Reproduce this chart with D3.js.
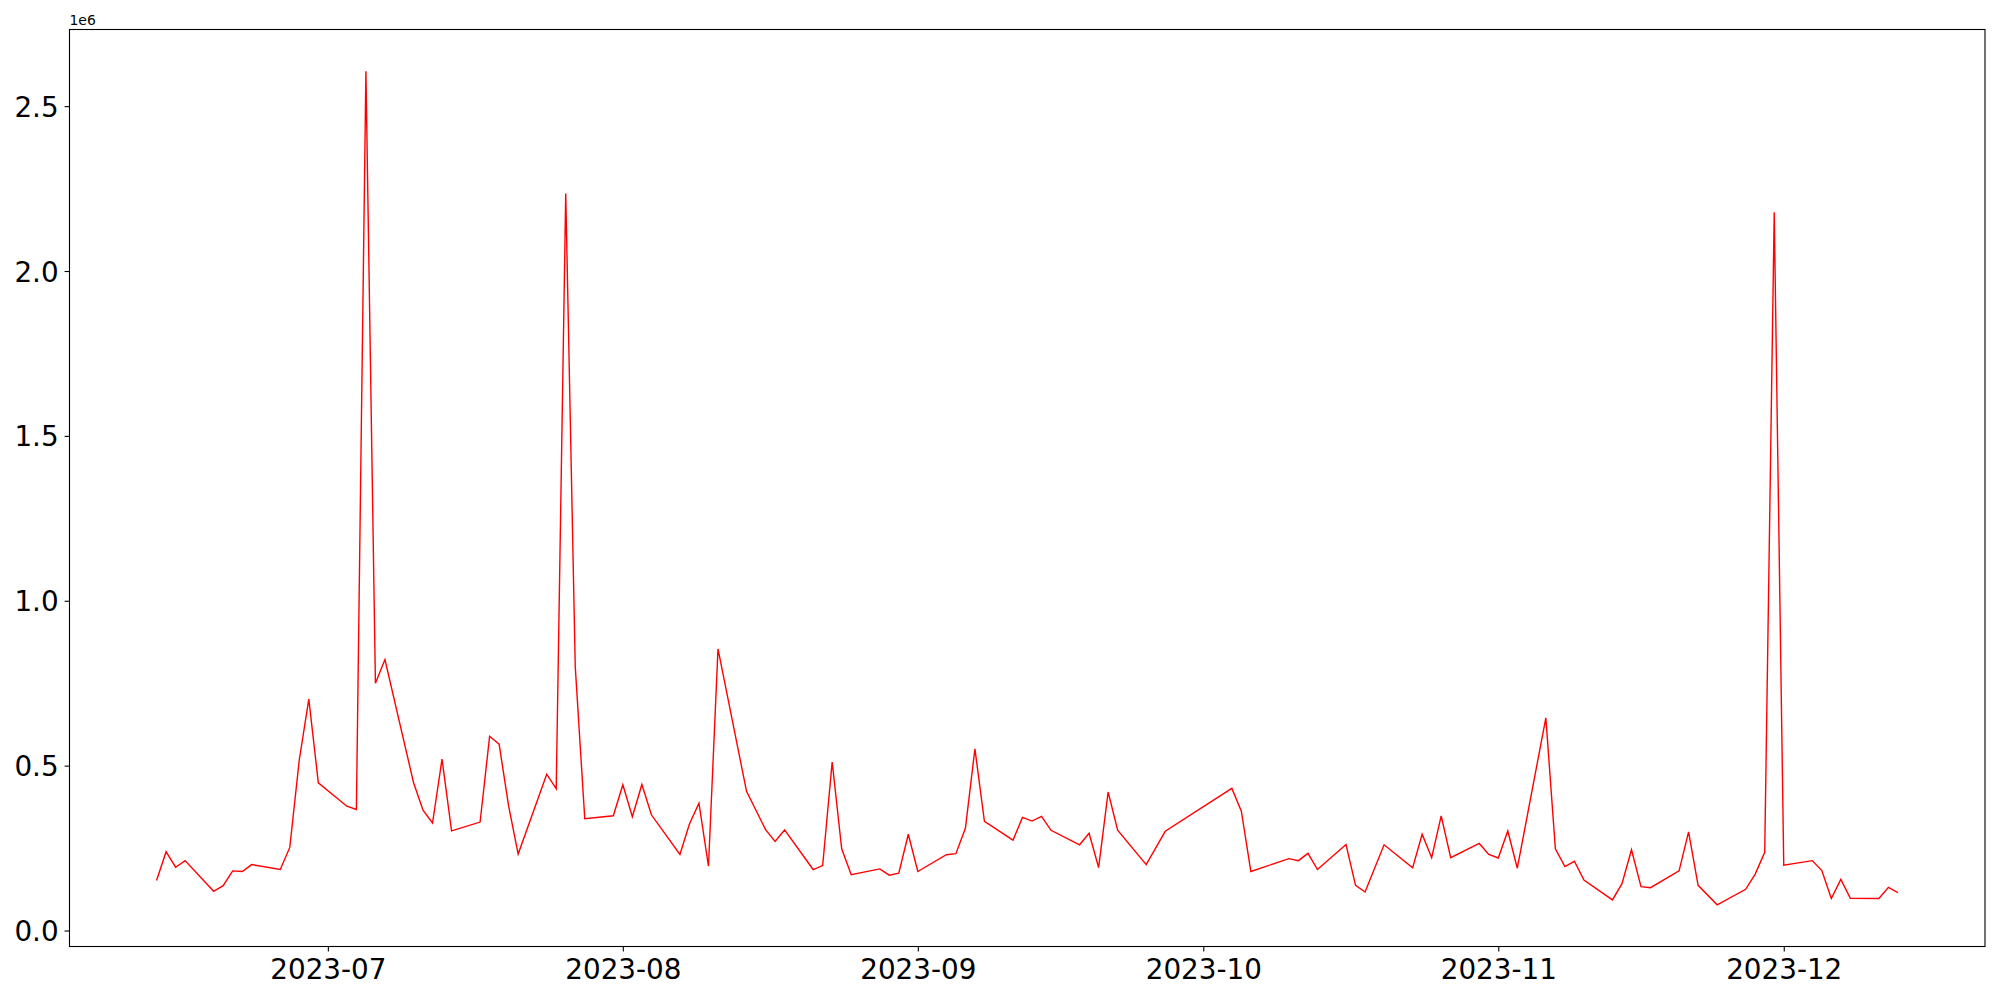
<!DOCTYPE html>
<html>
<head>
<meta charset="utf-8">
<script src="https://cdn.jsdelivr.net/npm/d3@7"></script>
<style>
  body { margin: 0; background: #fff; }
  svg { font-family: "DejaVu Sans", sans-serif; }
</style>
</head>
<body>
<svg id="chart" width="2000" height="1000"></svg>
<script>
// daily values
const dates = [
  '2023-06-13','2023-06-14','2023-06-15','2023-06-16','2023-06-19','2023-06-20','2023-06-21','2023-06-22','2023-06-23',
  '2023-06-26','2023-06-27','2023-06-28','2023-06-29','2023-06-30','2023-07-03','2023-07-04','2023-07-05','2023-07-06',
  '2023-07-07','2023-07-10','2023-07-11','2023-07-12','2023-07-13','2023-07-14','2023-07-17','2023-07-18','2023-07-19',
  '2023-07-20','2023-07-21','2023-07-24','2023-07-25','2023-07-26','2023-07-27','2023-07-28','2023-07-31','2023-08-01',
  '2023-08-02','2023-08-03','2023-08-04','2023-08-07','2023-08-08','2023-08-09','2023-08-10','2023-08-11','2023-08-14',
  '2023-08-16','2023-08-17','2023-08-18','2023-08-21','2023-08-22','2023-08-23','2023-08-24','2023-08-25','2023-08-28',
  '2023-08-29','2023-08-30','2023-08-31','2023-09-01','2023-09-04','2023-09-05','2023-09-06','2023-09-07','2023-09-08',
  '2023-09-11','2023-09-12','2023-09-13','2023-09-14','2023-09-15','2023-09-18','2023-09-19','2023-09-20','2023-09-21',
  '2023-09-22','2023-09-25','2023-09-27','2023-10-04','2023-10-05','2023-10-06','2023-10-10','2023-10-11','2023-10-12',
  '2023-10-13','2023-10-16','2023-10-17','2023-10-18','2023-10-20','2023-10-23','2023-10-24','2023-10-25','2023-10-26',
  '2023-10-27','2023-10-30','2023-10-31','2023-11-01','2023-11-02','2023-11-03','2023-11-06','2023-11-07','2023-11-08',
  '2023-11-09','2023-11-10','2023-11-13','2023-11-14','2023-11-15','2023-11-16','2023-11-17','2023-11-20','2023-11-21',
  '2023-11-22','2023-11-24','2023-11-27','2023-11-28','2023-11-29','2023-11-30','2023-12-01','2023-12-04','2023-12-05',
  '2023-12-06','2023-12-07','2023-12-08','2023-12-11','2023-12-12','2023-12-13'
];
const values = [
  152000, 239000, 192000, 212000, 119000, 136000, 181000, 179000, 200000,
  185000, 252000, 518000, 702000, 448000, 377000, 367000, 2606000, 750000,
  822000, 449000, 365000, 326000, 520000, 302000, 329000, 589000, 565000,
  377000, 232000, 474000, 430000, 2235000, 800000, 339000, 348000, 442000,
  345000, 443000, 351000, 231000, 323000, 386000, 195000, 854000, 422000,
  306000, 270000, 305000, 185000, 197000, 511000, 248000, 169000, 187000,
  168000, 174000, 292000, 179000, 230000, 233000, 310000, 551000, 331000,
  274000, 343000, 332000, 346000, 304000, 260000, 295000, 191000, 420000,
  304000, 200000, 301000, 431000, 362000, 179000, 218000, 212000, 234000,
  185000, 261000, 137000, 117000, 260000, 190000, 292000, 221000, 348000,
  221000, 264000, 231000, 220000, 302000, 189000, 645000, 248000, 194000,
  210000, 153000, 93000, 142000, 245000, 133000, 130000, 181000, 299000,
  137000, 78000, 125000, 171000, 237000, 2178000, 198000, 212000, 182000,
  97000, 155000, 98000, 97000, 131000, 115000
];
const yTicks = [0, 500000, 1000000, 1500000, 2000000, 2500000];

const parse = d3.timeParse('%Y-%m-%d');
const data = dates.map((d, i) => ({ date: parse(d), value: values[i] }));

const svg = d3.select('#chart');
const margin = { left: 69.5, top: 29.5, right: 15, bottom: 53.5 };
const width = 2000 - margin.left - margin.right;
const height = 1000 - margin.top - margin.bottom;

const g = svg.append('g').attr('transform', `translate(${margin.left},${margin.top})`);

// matplotlib-like 5% margins
const xExt = d3.extent(data, d => +d.date);
const xPad = (xExt[1] - xExt[0]) * 0.05;
const x = d3.scaleTime()
  .domain([new Date(xExt[0] - xPad), new Date(xExt[1] + xPad)])
  .range([0, width]);

const yExt = d3.extent(values);
const yPad = (yExt[1] - yExt[0]) * 0.05;
const y = d3.scaleLinear()
  .domain([yExt[0] - yPad, yExt[1] + yPad])
  .range([height, 0]);

const line = d3.line()
  .x(d => x(d.date))
  .y(d => y(d.value));

g.append('path')
  .datum(data)
  .attr('fill', 'none')
  .attr('stroke', '#ff0000')
  .attr('stroke-width', 1.4)
  .attr('stroke-linejoin', 'miter')
  .attr('d', line);

// axes
const xAxis = d3.axisBottom(x)
  .ticks(d3.timeMonth.every(1))
  .tickFormat(d3.timeFormat('%Y-%m'))
  .tickSize(4.9)
  .tickPadding(6);

const yAxis = d3.axisLeft(y)
  .tickValues(yTicks)
  .tickFormat(d => d3.format('.1f')(d / 1e6))
  .tickSize(4.9)
  .tickPadding(6);

const gx = g.append('g').attr('transform', `translate(0,${height})`).call(xAxis);
const gy = g.append('g').call(yAxis);

[gx, gy].forEach(a => {
  a.select('.domain').remove();
  a.selectAll('line').attr('stroke', '#000').attr('stroke-width', 1.1);
  a.selectAll('text')
    .attr('fill', '#000')
    .style('font-size', '27.8px')
    .style('font-family', '"DejaVu Sans", sans-serif');
});
gx.selectAll('text').attr('dy', '0.76em');
gy.selectAll('text').attr('dy', '0.36em');

// frame
g.append('rect')
  .attr('width', width)
  .attr('height', height)
  .attr('fill', 'none')
  .attr('stroke', '#000')
  .attr('stroke-width', 1.1);

// offset text
g.append('text')
  .attr('x', 0)
  .attr('y', -5)
  .style('font-size', '13.9px')
  .text('1e6');
</script>
</body>
</html>
